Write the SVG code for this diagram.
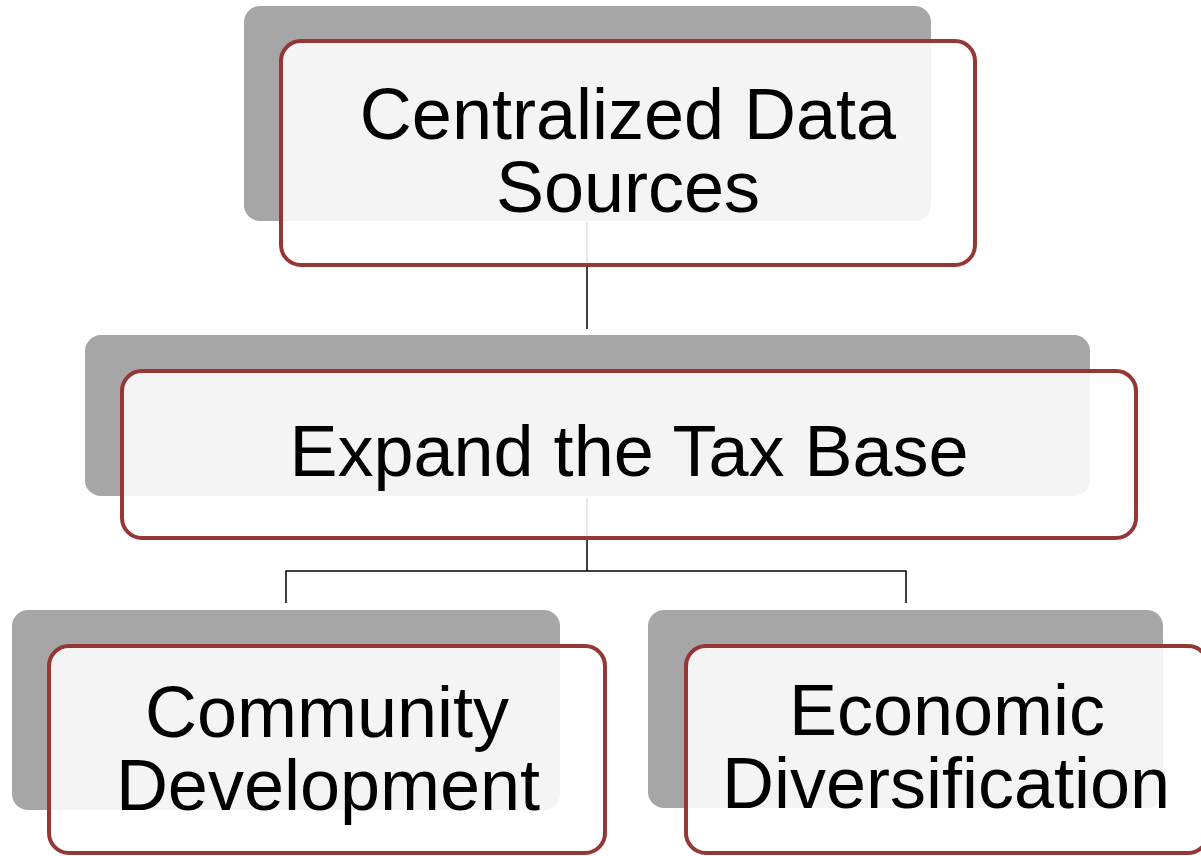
<svg xmlns="http://www.w3.org/2000/svg" width="1201" height="856" viewBox="0 0 1201 856">
<style>
.shadow{fill:#a6a6a6}
.box{fill:#ffffff;fill-opacity:0.88;stroke:#953735;stroke-width:4}
.lbl{font-family:"Liberation Sans",Arial,sans-serif;font-size:72px;fill:#000;text-anchor:middle}
.conn{fill:none;stroke:#000;stroke-width:1.5}
</style>
<rect width="1201" height="856" fill="#ffffff"/>
<g id="connectors">
<line class="conn" x1="587" y1="222" x2="587" y2="329"/>
<polyline class="conn" points="587,497 587,571"/>
<polyline class="conn" points="286,603 286,571 906,571 906,603"/>
</g>
<g id="node-centralized">
<rect class="shadow" x="244" y="6" width="687" height="215" rx="16"/>
<rect class="box" x="281" y="41" width="694" height="224" rx="20"/>
<text class="lbl" x="628" y="139">Centralized Data</text>
<text class="lbl" x="628" y="212">Sources</text>
</g>
<g id="node-expand">
<rect class="shadow" x="85" y="335" width="1005" height="161" rx="16"/>
<rect class="box" x="122" y="371" width="1014" height="167" rx="20"/>
<text class="lbl" x="629" y="476">Expand the Tax Base</text>
</g>
<g id="node-community">
<rect class="shadow" x="12" y="610" width="548" height="200" rx="16"/>
<rect class="box" x="49" y="646" width="556" height="207" rx="20"/>
<text class="lbl" x="327" y="737">Community</text>
<text class="lbl" x="328" y="810">Development</text>
</g>
<g id="node-economic">
<rect class="shadow" x="648" y="610" width="515" height="198" rx="16"/>
<rect class="box" x="686" y="646" width="522" height="207" rx="20"/>
<text class="lbl" x="947" y="735">Economic</text>
<text class="lbl" x="946" y="808">Diversification</text>
</g>
</svg>
